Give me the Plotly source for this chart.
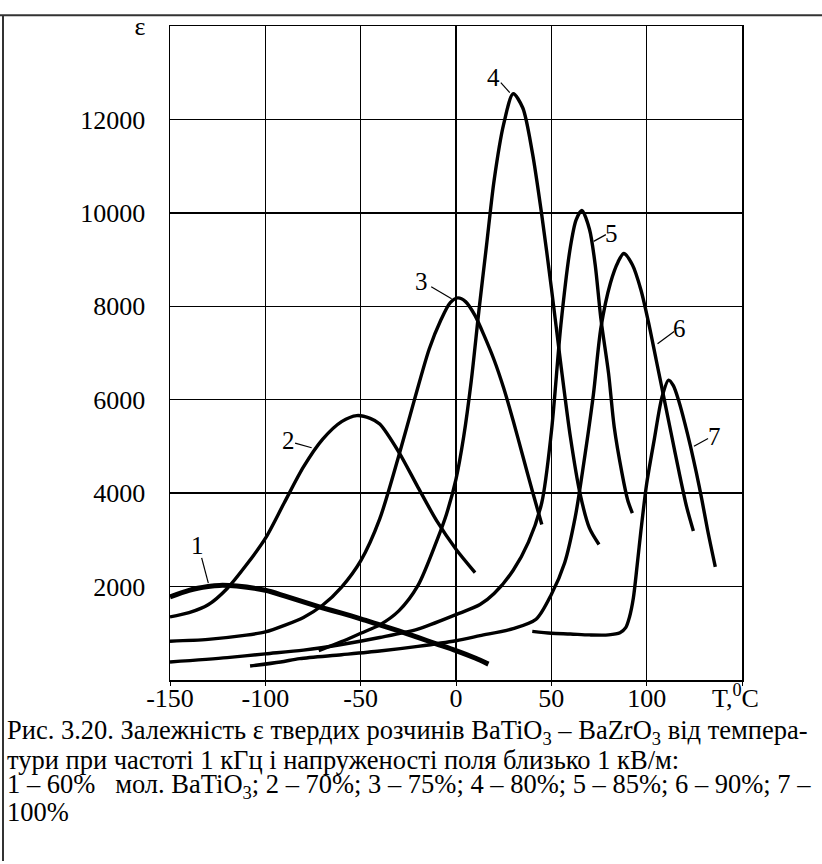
import plotly.graph_objects as go

# ---- data ----
c1_x = [-150, -140, -130, -124, -115, -100, -90, -80, -70, -60, -50, -40, -30, -20, -10, 0, 10, 17]
c1_y = [1780, 1920, 2000, 2025, 2010, 1920, 1800, 1670, 1545, 1430, 1310, 1180, 1050, 910, 770, 630, 470, 340]

c2_x = [-150, -140, -130, -120, -110, -100, -90, -80, -70, -60, -52, -45, -40, -30, -20, -10, 0, 10]
c2_y = [1350, 1440, 1610, 1960, 2460, 3030, 3800, 4560, 5150, 5530, 5660, 5600, 5480, 4880, 4130, 3400, 2800, 2300]

c3_x = [-150, -130, -110, -100, -90, -80, -70, -60, -50, -40, -30, -22, -14, -8, -3, 1, 5, 10, 15, 20, 25, 30, 35, 40, 45]
c3_y = [830, 870, 960, 1030, 1170, 1340, 1600, 1990, 2550, 3450, 4800, 5970, 7090, 7700, 8080, 8180, 8100, 7800, 7350, 6850, 6250, 5550, 4800, 4050, 3330]

c4_x = [-72, -60, -50, -40, -30, -20, -10, -5, 0, 4, 8, 12, 16, 20, 25, 30, 35, 40, 45, 50, 55, 60, 65, 70, 75]
c4_y = [630, 820, 1000, 1180, 1480, 2020, 2990, 3550, 4300, 5200, 6400, 7900, 9300, 10700, 11900, 12550, 12250, 11300, 9950, 8400, 6750, 5200, 4000, 3250, 2900]

c5_x = [-150, -120, -100, -80, -60, -40, -20, 0, 12.6, 20, 30, 38, 45, 50, 55, 60, 63, 66, 70, 73, 76, 80, 83, 87, 90, 92.5]
c5_y = [386, 480, 560, 640, 760, 910, 1090, 1400, 1615, 1850, 2350, 2950, 3800, 5300, 7600, 9270, 9850, 10050, 9650, 8890, 7730, 6570, 5410, 4440, 3860, 3570]

c6_x = [-108, -92, -82, -60, -40, -20, 0, 12.6, 30, 42, 50, 57, 62.5, 67, 72, 76, 81, 85, 88, 92.5, 97, 101, 105, 109, 113, 117, 121, 124.5]
c6_y = [300, 386, 457, 540, 620, 720, 840, 948, 1100, 1300, 1830, 2510, 3480, 4640, 6090, 7540, 8500, 8950, 9130, 8890, 8350, 7650, 6850, 6050, 5250, 4450, 3700, 3190]

c7_x = [40, 50, 60, 70, 80, 86, 89, 91, 93, 95, 97, 100, 104, 108, 111.5, 114, 117, 120, 123, 126, 129, 132, 136]
c7_y = [1040, 1000, 985, 965, 965, 1010, 1120, 1350, 1750, 2450, 3200, 4200, 5150, 6050, 6420, 6300, 5950, 5500, 5000, 4450, 3850, 3200, 2420]

curves_x = [c1_x, c2_x, c3_x, c4_x, c5_x, c6_x, c7_x]
curves_y = [c1_y, c2_y, c3_y, c4_y, c5_y, c6_y, c7_y]
curve_widths = [5, 3.4, 3.4, 3.4, 3.4, 3.4, 3.4]

# curve number labels and their leader lines
lab_text = ["1", "2", "3", "4", "5", "6", "7"]
lab_x = [-135.7, -88, -18, 19.5, 81.5, 117, 135.5]
lab_y = [2880, 5126, 8520, 12890, 9563, 7535, 5216]
lead_x0 = [-133.4, -84.4, -13, 23.5, 72.2, 105.7, 124.8]
lead_y0 = [2613, 5070, 8420, 12786, 9390, 7197, 5004]
lead_x1 = [-129.9, -75.7, -2.3, 28.2, 78.6, 114.4, 132.2]
lead_y1 = [2072, 4972, 8160, 12575, 9534, 7458, 5168]

x_ticks = [-150, -100, -50, 0, 50, 100, 150]
x_ticktext = ["-150", "-100", "-50", "0", "50", "100", "T,<sup>0</sup>C\u00a0\u00a0"]
y_ticks = [2000, 4000, 6000, 8000, 10000, 12000, 14000]
y_ticktext = ["2000", "4000", "6000", "8000", "10000", "12000", "ε"]

caption = [
    "Рис. 3.20. Залежність ε твердих розчинів BaTiO<sub>3</sub> – BaZrO<sub>3</sub> від темпера-",
    "тури при частоті 1 кГц і напруженості поля близько 1 кВ/м:",
    "1 – 60%\u00a0\u00a0 мол. BaTiO<sub>3</sub>; 2 – 70%; 3 – 75%; 4 – 80%; 5 – 85%; 6 – 90%; 7 –",
    "100%",
]

FONT = "Liberation Serif, Times New Roman, serif"
W, H = 822, 864
L, R, T, B = 170, 80, 15, 184
PW, PH = W - L - R, H - T - B


def px(xp):
    return (xp - L) / PW


def py(yp):
    return (H - B - yp) / PH


fig = go.Figure()
for xs, ys, w in zip(curves_x, curves_y, curve_widths):
    fig.add_trace(go.Scatter(x=xs, y=ys, mode="lines",
                             line=dict(color="black", width=w, shape="spline", smoothing=0.8),
                             showlegend=False, hoverinfo="skip"))

shapes = []
for x0, y0, x1, y1 in zip(lead_x0, lead_y0, lead_x1, lead_y1):
    shapes.append(dict(type="line", xref="x", yref="y", x0=x0, y0=y0, x1=x1, y1=y1,
                       line=dict(color="black", width=1.2)))
# outer frame (top and left edges)
shapes.append(dict(type="line", xref="paper", yref="paper", x0=px(0), x1=px(W),
                   y0=py(4), y1=py(4), line=dict(color="#333", width=2)))
shapes.append(dict(type="line", xref="paper", yref="paper", x0=px(3), x1=px(3),
                   y0=py(4), y1=py(H), line=dict(color="#333", width=2)))

annotations = []
for t, x, y in zip(lab_text, lab_x, lab_y):
    annotations.append(dict(text=t, x=x, y=y, xref="x", yref="y", showarrow=False,
                            font=dict(family=FONT, size=25, color="black")))
cap_y = [733, 761, 788, 814]
for t, yy in zip(caption, cap_y):
    annotations.append(dict(text=t, x=px(5), y=py(yy), xref="paper", yref="paper",
                            xanchor="left", yanchor="middle", showarrow=False,
                            font=dict(family=FONT, size=26.5, color="black")))

fig.update_layout(
    width=W, height=H, autosize=False,
    margin=dict(l=L, r=R, t=T, b=B, pad=0),
    paper_bgcolor="white", plot_bgcolor="white",
    shapes=shapes, annotations=annotations,
    xaxis=dict(range=[-150, 150], tickvals=x_ticks, ticktext=x_ticktext,
               showgrid=True, gridcolor="black", gridwidth=1.5,
               showline=True, linecolor="black", linewidth=1.5, mirror=True,
               ticks="outside", ticklen=4, tickcolor="black", zeroline=False,
               ticklabelstandoff=-10,
               tickfont=dict(family=FONT, size=26, color="black")),
    yaxis=dict(range=[0, 14000], tickvals=y_ticks, ticktext=y_ticktext,
               showgrid=True, gridcolor="black", gridwidth=1.5,
               showline=True, linecolor="black", linewidth=1.5, mirror=True,
               ticks="outside", ticklen=18, tickcolor="rgba(0,0,0,0)", zeroline=False,
               tickfont=dict(family=FONT, size=26, color="black")),
)

fig.write_html(
    "out.html",
    config={"displayModeBar": False, "staticPlot": True},
    post_script="document.body.style.margin='0';document.body.style.padding='0';"
                "document.body.style.overflow='hidden';",
)
